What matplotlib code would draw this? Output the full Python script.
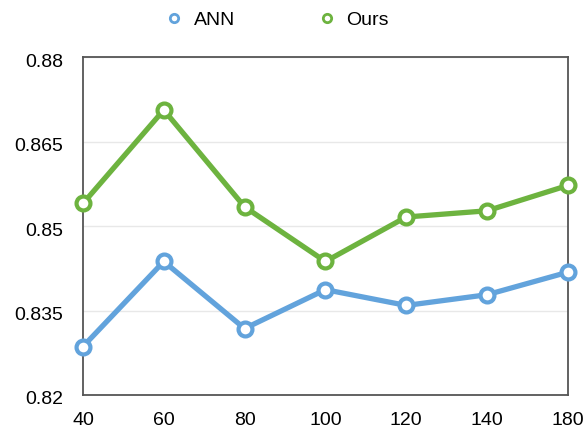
import numpy as np
import matplotlib.pyplot as plt
import matplotlib.transforms as mtransforms
from matplotlib.lines import Line2D

plt.rcParams['font.family'] = ['Liberation Sans', 'DejaVu Sans']

# data
x_labels = ["40", "60", "80", "100", "120", "140", "180"]
ann = [0.8286, 0.8437, 0.8318, 0.8387, 0.8359, 0.8378, 0.8418]
ours = [0.8540, 0.8706, 0.8534, 0.8437, 0.8516, 0.8527, 0.8572]

blue = "#62a3dc"
green = "#6db33f"

fig = plt.figure(figsize=(5.86, 4.3), dpi=100)
ax = fig.add_axes([0.1416, 0.0814, 0.8274, 0.786])

x = np.arange(len(x_labels))
for vals, col in [(ann, blue), (ours, green)]:
    ax.plot(x, vals, color=col, linewidth=3.8, marker="o", markersize=10,
            markerfacecolor="white", markeredgecolor=col, markeredgewidth=3,
            clip_on=False, zorder=3)

ax.set_xlim(0, len(x_labels) - 1)
ax.set_ylim(0.82, 0.88)
ax.set_xticks(x)
ax.set_xticklabels(x_labels)
ax.set_yticks([0.82, 0.835, 0.85, 0.865, 0.88])
ax.set_yticklabels(["0.82", "0.835", "0.85", "0.865", "0.88"])
ax.tick_params(axis="x", length=0, labelsize=14, pad=12)
ax.tick_params(axis="y", length=0, labelsize=14, pad=14)
# y labels sit a little below their grid lines in the reference
shift = mtransforms.ScaledTranslation(0, -3 / 100, fig.dpi_scale_trans)
for lbl in ax.get_yticklabels():
    lbl.set_transform(lbl.get_transform() + shift)
ax.yaxis.grid(True, color="#e8e8e8", linewidth=1)
ax.set_axisbelow(True)
for s in ax.spines.values():
    s.set_color("#555555")
    s.set_linewidth(1.3)

handles = [
    Line2D([], [], linestyle="none", marker="o", markersize=6,
           markerfacecolor="white", markeredgecolor=blue, markeredgewidth=2),
    Line2D([], [], linestyle="none", marker="o", markersize=6,
           markerfacecolor="white", markeredgecolor=green, markeredgewidth=2),
]
fig.legend(handles, ["ANN", "Ours"], loc="center", bbox_to_anchor=(0.472, 0.953),
           ncol=2, frameon=False, fontsize=14, columnspacing=4.2,
           handletextpad=0.5, handlelength=1)

fig.savefig("out.png", dpi=100)
